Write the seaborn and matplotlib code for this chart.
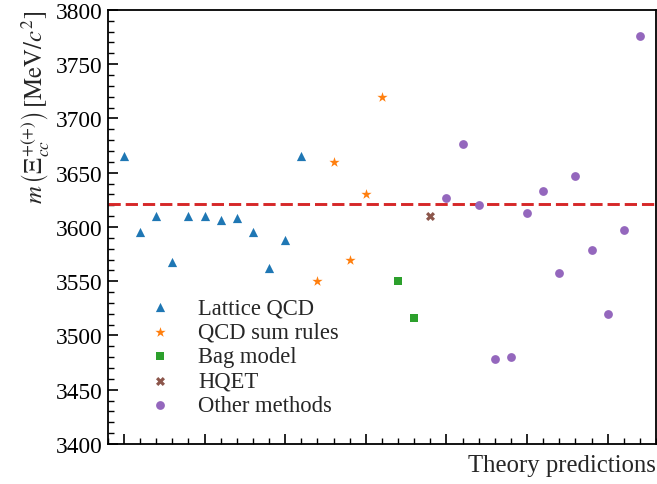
import numpy as np
import pandas as pd
import matplotlib
matplotlib.use("Agg")
import matplotlib.pyplot as plt
from matplotlib.ticker import MultipleLocator, NullFormatter
import seaborn as sns

# Theoretical predictions of the Xi_cc mass, grouped by method (MeV/c^2)
lattice_qcd = [3665, 3595, 3610, 3568, 3610, 3610, 3606, 3608, 3595, 3562, 3588, 3665]
qcd_sum_rules = [3550, 3660, 3570, 3630, 3720]
bag_model = [3550, 3516]
hqet = [3610]
other_methods = [3627, 3676, 3620, 3478, 3480, 3613, 3633, 3558, 3647, 3579, 3520, 3597, 3776]

method_names = ["Lattice QCD", "QCD sum rules", "Bag model", "HQET", "Other methods"]
measured_mass = 3621.4

groups = [lattice_qcd, qcd_sum_rules, bag_model, hqet, other_methods]
masses = [m for g in groups for m in g]
methods = [name for name, g in zip(method_names, groups) for _ in g]
df = pd.DataFrame({"idx": np.arange(len(masses)), "mass": masses, "method": methods})

sns.set_theme(style="ticks")
plt.rcParams["font.family"] = ["Liberation Serif", "DejaVu Serif"]
plt.rcParams["mathtext.fontset"] = "stix"

fig = plt.figure(figsize=(6.57, 4.85), dpi=100)
ax = fig.add_axes([0.164, 0.0825, 0.8345, 0.895])

colors = sns.color_palette("tab10")
palette = {
    "Lattice QCD": colors[0],
    "QCD sum rules": colors[1],
    "Bag model": colors[2],
    "HQET": colors[5],
    "Other methods": colors[4],
}
markers = {
    "Lattice QCD": "^",
    "QCD sum rules": "*",
    "Bag model": "s",
    "HQET": "X",
    "Other methods": "o",
}
sizes = {"Lattice QCD": 44, "QCD sum rules": 60, "Bag model": 34, "HQET": 42, "Other methods": 40}

for name in method_names:
    sub = df[df["method"] == name]
    sns.scatterplot(data=sub, x="idx", y="mass", color=palette[name], marker=markers[name],
                    s=sizes[name], linewidth=0, ax=ax, label=name, zorder=3)

ax.axhline(measured_mass, color=colors[3], linestyle=(0, (4.2, 1.7)), linewidth=2.1, zorder=2)

ax.set_xlim(-1, 33)
ax.set_ylim(3400, 3800)
ax.xaxis.set_major_locator(MultipleLocator(5))
ax.xaxis.set_minor_locator(MultipleLocator(1))
ax.xaxis.set_major_formatter(NullFormatter())
ax.yaxis.set_major_locator(MultipleLocator(50))
ax.yaxis.set_minor_locator(MultipleLocator(10))
ax.tick_params(axis="both", which="both", direction="in", colors="black", labelsize=16.8)
ax.tick_params(axis="both", which="major", length=7, width=1.2)
ax.tick_params(axis="both", which="minor", length=4, width=1.0)
for sp in ax.spines.values():
    sp.set_color("black")
    sp.set_linewidth(1.3)

ax.set_xlabel("Theory predictions", fontsize=17.8, loc="right")
ax.set_ylabel(r"$m\,\left(\Xi_{cc}^{+(+)}\right)\,[\mathrm{MeV}/c^2]$", fontsize=17.8, loc="top")

ax.legend(loc="lower left", bbox_to_anchor=(0.025, 0.028), frameon=False, fontsize=16.3,
          handletextpad=0.7, labelspacing=0.15, borderpad=0.2)

fig.savefig("out.png", dpi=100)
